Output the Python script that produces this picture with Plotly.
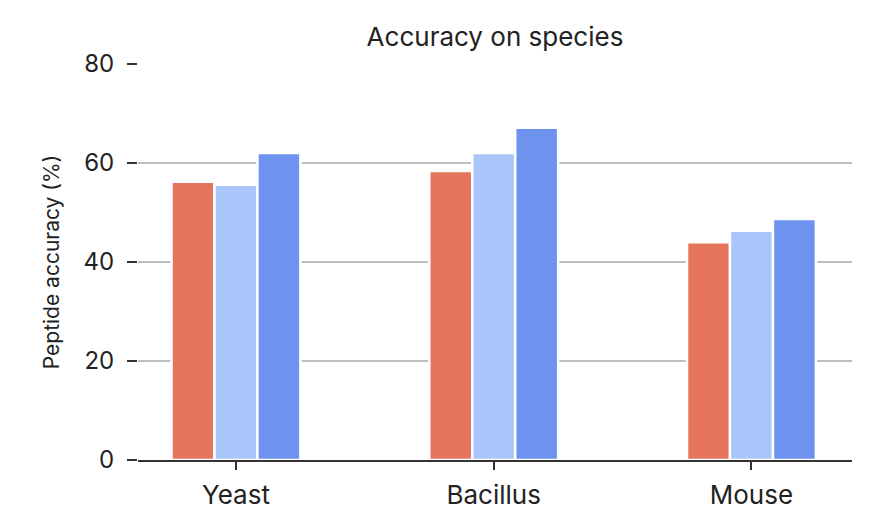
import plotly.graph_objects as go

# species accuracy
species = ["Yeast", "Bacillus", "Mouse"]
method_a = [56.2, 58.4, 44.0]
method_b = [55.6, 62.0, 46.3]
method_c = [62.0, 67.1, 48.7]

colors = ["#E5755C", "#A8C6FA", "#6E93EE"]
FONT = "Inter, Roboto, DejaVu Sans, sans-serif"

fig = go.Figure()
for vals, color in zip([method_a, method_b, method_c], colors):
    fig.add_trace(go.Bar(
        x=species, y=vals,
        marker=dict(color=color, line=dict(color="white", width=2.5)),
        showlegend=False,
    ))

# page body has an 8px margin, so margins are shifted to compensate
fig.update_layout(
    width=872, height=528,
    barmode="group",
    bargap=0.5,
    bargroupgap=0.0,
    plot_bgcolor="white",
    paper_bgcolor="white",
    margin=dict(l=130, r=28, t=56, b=76),
    font=dict(family=FONT, size=20, color="#222"),
    title=dict(text="Accuracy on species", x=0.5, xref="paper", xanchor="center",
               y=0.945, yanchor="middle", font=dict(size=26, color="#222")),
)
fig.update_xaxes(
    range=[-0.38, 2.39],
    showline=True, linecolor="#333", linewidth=2,
    ticks="outside", ticklen=8, tickwidth=1.5, tickcolor="#333",
    showgrid=False,
    tickfont=dict(size=26),
    ticklabelstandoff=3,
)
fig.update_yaxes(
    range=[0, 80], dtick=20,
    showline=False, zeroline=False,
    showgrid=True, gridcolor="#BDBDBD", gridwidth=2,
    ticks="outside", ticklen=10, tickwidth=1.5, tickcolor="#333",
    ticklabelstandoff=8,
    title=dict(text="Peptide accuracy (%)", standoff=18, font=dict(size=21)),
    tickfont=dict(size=24),
)

fig.write_html("out.html")
